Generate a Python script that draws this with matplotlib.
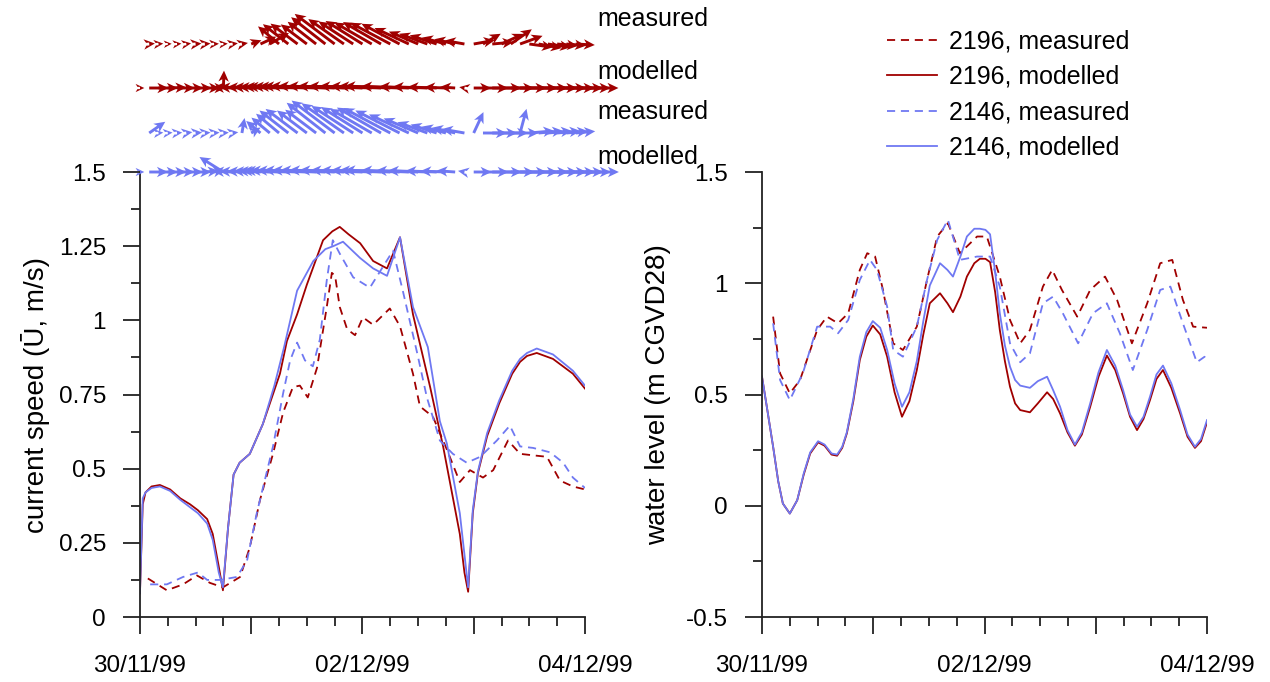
import matplotlib
matplotlib.use("Agg")
import matplotlib.pyplot as plt
import numpy as np
from matplotlib.ticker import MultipleLocator

plt.rcParams['font.family'] = ['Liberation Sans', 'DejaVu Sans']

RED = '#a00000'
BLUE = '#6f78f2'

# hours after 30/11/99 00:00
# ---- current speed (m/s) ----
spd_t_2196_mod = [0, 0.6, 1.2, 2.5, 4.3, 6.5, 8.7, 10.8, 12.5, 14.5, 15.7, 17, 17.9, 19, 20.2, 21.5,
                  23.7, 26.5, 30.2, 31.7, 33.9, 36, 39.5, 41.5, 43.1, 45, 47.5, 50.3, 53.3, 56.1,
                  58.9, 62.6, 65.4, 69.0, 70.0, 70.8, 71.8, 72.9, 74.9, 77.5, 80.3, 82, 83.5, 85.6,
                  89.1, 93.4, 96]
spd_2196_mod = [0.08, 0.38, 0.42, 0.44, 0.445, 0.43, 0.40, 0.38, 0.36, 0.33, 0.28, 0.17, 0.09, 0.30,
                0.48, 0.52, 0.55, 0.65, 0.82, 0.93, 1.02, 1.12, 1.27, 1.30, 1.315, 1.29, 1.26, 1.20,
                1.175, 1.28, 1.02, 0.775, 0.575, 0.28, 0.15, 0.085, 0.35, 0.485, 0.61, 0.72, 0.82,
                0.86, 0.88, 0.89, 0.87, 0.82, 0.77]

spd_t_2146_mod = [0, 0.6, 1.2, 2.5, 4.3, 6.5, 8.7, 10.8, 12.5, 14.5, 15.7, 17, 17.9, 19, 20.2, 21.5,
                  23.7, 26.5, 29, 31.1, 33.9, 37.4, 40, 41.7, 43.8, 47.5, 50.3, 53.3, 56.1, 58.9,
                  62.1, 64.7, 66.2, 69.0, 70.8, 71.8, 72.9, 74.9, 77.5, 80.3, 82, 83.5, 85.6, 89.1,
                  93.4, 96]
spd_2146_mod = [0.08, 0.40, 0.42, 0.435, 0.44, 0.425, 0.395, 0.37, 0.35, 0.315, 0.26, 0.15, 0.10,
                0.30, 0.48, 0.52, 0.55, 0.65, 0.78, 0.91, 1.10, 1.20, 1.24, 1.25, 1.265, 1.21, 1.175,
                1.15, 1.28, 1.045, 0.91, 0.66, 0.585, 0.35, 0.10, 0.36, 0.49, 0.62, 0.73, 0.83,
                0.87, 0.89, 0.905, 0.885, 0.83, 0.78]

spd_t_2196_meas = [1.7, 5.8, 9.3, 12.3, 15.1, 17.9, 21.6, 23.7, 25.9, 28.7, 30.9, 33.0, 34.5, 36.2,
                   38.2, 40.3, 41.4, 42.1, 43.1, 44.7, 46.4, 48.1, 50.3, 53.9, 56.1, 58.9, 60.4,
                   63.2, 66.2, 69.0, 71.2, 74.0, 76.2, 79.4, 82.0, 84.8, 87.8, 90.6, 93.4, 96]
spd_2196_meas = [0.13, 0.09, 0.11, 0.14, 0.115, 0.10, 0.135, 0.235, 0.395, 0.55, 0.69, 0.775, 0.78,
                 0.74, 0.84, 1.045, 1.16, 1.15, 1.045, 0.97, 0.95, 1.01, 0.985, 1.04, 0.98, 0.82,
                 0.71, 0.675, 0.565, 0.455, 0.495, 0.47, 0.495, 0.595, 0.55, 0.545, 0.54, 0.46,
                 0.44, 0.43]

spd_t_2146_meas = [2.2, 5.8, 9.3, 12.5, 14.5, 17.3, 20.9, 23.1, 25.2, 28.7, 30.9, 32.4, 33.9, 35.6,
                   37.3, 38.8, 40.3, 41.6, 43.1, 46.0, 49.6, 52.4, 54.6, 56.7, 59.8, 61.9, 64.7,
                   67.5, 70.5, 73.4, 77.0, 79.8, 82.0, 84.8, 88.5, 91.3, 93.4, 96]
spd_2146_meas = [0.11, 0.11, 0.135, 0.15, 0.125, 0.125, 0.135, 0.19, 0.35, 0.575, 0.755, 0.865,
                 0.925, 0.865, 0.845, 0.935, 1.135, 1.27, 1.225, 1.145, 1.11, 1.18, 1.235, 1.10,
                 0.89, 0.74, 0.595, 0.55, 0.52, 0.54, 0.595, 0.645, 0.575, 0.57, 0.555, 0.52,
                 0.47, 0.435]

# ---- water level (m CGVD28) ----
wl_t_mod = [0, 1, 2.4, 3.5, 4.5, 6.0, 7.6, 9, 10.4, 12.1, 13.5, 15, 16.2, 17.3, 18.3, 19.7, 21.1,
            22.5, 23.9, 25.5, 27.0, 28.6, 30.2, 31.8, 33.4, 34.8, 36.2, 38.4, 40, 41.2, 42.8, 44.2,
            45.8, 47.0, 48.2, 49.2, 50.3, 51.3, 52.4, 53.5, 54.6, 55.7, 57.8, 59.5, 61.5, 62.8,
            64.3, 65.9, 67.5, 69, 70.8, 72.6, 74.4, 76.2, 77.9, 79.4, 80.9, 82.3, 83.7, 85.1,
            86.5, 88.3, 90.2, 91.8, 93.4, 94.7, 96]
wl_2196_mod = [0.58, 0.45, 0.265, 0.11, 0.01, -0.035, 0.025, 0.14, 0.235, 0.285, 0.27, 0.23, 0.225,
               0.26, 0.325, 0.47, 0.655, 0.76, 0.81, 0.77, 0.67, 0.51, 0.40, 0.47, 0.61, 0.77, 0.91,
               0.955, 0.91, 0.87, 0.94, 1.03, 1.09, 1.11, 1.11, 1.095, 0.96, 0.79, 0.65, 0.535,
               0.46, 0.43, 0.42, 0.46, 0.51, 0.48, 0.415, 0.33, 0.27, 0.32, 0.445, 0.58, 0.675,
               0.61, 0.505, 0.40, 0.34, 0.39, 0.475, 0.57, 0.61, 0.53, 0.415, 0.31, 0.26, 0.29,
               0.375]
wl_2146_mod = [0.58, 0.45, 0.265, 0.11, 0.01, -0.035, 0.025, 0.145, 0.24, 0.29, 0.275, 0.235, 0.23,
               0.265, 0.33, 0.48, 0.67, 0.78, 0.83, 0.80, 0.70, 0.55, 0.445, 0.51, 0.65, 0.83, 0.99,
               1.09, 1.06, 1.03, 1.12, 1.21, 1.245, 1.245, 1.24, 1.22, 1.05, 0.865, 0.72, 0.625,
               0.565, 0.54, 0.53, 0.56, 0.58, 0.52, 0.445, 0.34, 0.275, 0.33, 0.46, 0.60, 0.70,
               0.63, 0.52, 0.41, 0.355, 0.40, 0.49, 0.59, 0.63, 0.55, 0.43, 0.32, 0.265, 0.30,
               0.385]

wl_t_2196_meas = [2.4, 3.9, 6.0, 8.2, 11.9, 14.0, 16.4, 18.6, 21.1, 22.7, 24.4, 26.1, 28.3, 30.4,
                  33.4, 35.6, 37.8, 40.1, 42.7, 46.4, 48.5, 51.3, 53.5, 55.7, 57.8, 60.6, 62.6,
                  64.7, 68.0, 70.8, 74.0, 76.6, 79.8, 83.1, 85.9, 88.5, 90.8, 93.0, 96]
wl_2196_meas = [0.85, 0.595, 0.505, 0.565, 0.79, 0.85, 0.82, 0.865, 1.06, 1.135, 1.12, 0.97, 0.73,
                0.70, 0.805, 1.015, 1.21, 1.27, 1.135, 1.21, 1.21, 1.03, 0.835, 0.73, 0.79, 0.985,
                1.06, 0.97, 0.85, 0.97, 1.03, 0.925, 0.73, 0.91, 1.09, 1.105, 0.925, 0.805, 0.80]

wl_t_2146_meas = [2.4, 3.9, 6.0, 8.8, 11.9, 14.7, 16.4, 18.6, 21.1, 23.3, 24.8, 27.0, 28.3, 30.4,
                  33.4, 35.6, 37.8, 40.1, 42.7, 46.4, 49.2, 51.3, 53.5, 55.7, 57.8, 60.6, 62.8,
                  64.9, 68.2, 71.4, 74.4, 77.2, 80.0, 83.1, 85.9, 88.1, 90.8, 93.8, 95.5, 96]
wl_2146_meas = [0.82, 0.565, 0.475, 0.595, 0.805, 0.805, 0.775, 0.835, 1.015, 1.105, 1.06, 0.895,
                0.70, 0.67, 0.805, 1.015, 1.195, 1.285, 1.105, 1.12, 1.12, 0.985, 0.73, 0.645,
                0.685, 0.91, 0.94, 0.865, 0.73, 0.865, 0.91, 0.775, 0.61, 0.79, 0.97, 0.985, 0.82,
                0.645, 0.67, 0.69]

# ---- current vectors (speed m/s, direction deg anticlockwise from east) ----
vec_t_mod = [0, 2, 4, 6, 8, 10, 12, 14, 16, 18, 20, 22, 24, 26, 28, 30, 32, 34, 36, 38, 40, 42, 44,
             46, 48, 50, 52, 54, 56, 58, 60, 62, 64, 66, 68, 70, 72, 74, 76, 78, 80, 82, 84, 86,
             88, 90, 92, 94, 96]
vec_t_meas = [2, 4, 6, 8, 10, 12, 14, 16, 18, 20, 22, 24, 26, 28, 30, 32, 34, 36, 38, 40, 42, 44,
              46, 48, 50, 52, 54, 56, 58, 60, 62, 64, 66, 68, 70, 72, 74, 76, 78, 80, 82, 84, 86,
              88, 90, 92, 94]

vec_spd_2196_mod = [0.10, 0.44, 0.445, 0.43, 0.41, 0.39, 0.37, 0.35, 0.26, 0.40, 0.45, 0.52, 0.56,
                    0.63, 0.72, 0.81, 0.94, 1.03, 1.12, 1.22, 1.28, 1.31, 1.30, 1.28, 1.25, 1.21,
                    1.18, 1.20, 1.27, 1.10, 0.90, 0.80, 0.67, 0.50, 0.35, 0.12, 0.40, 0.58, 0.67,
                    0.75, 0.82, 0.86, 0.885, 0.89, 0.88, 0.86, 0.84, 0.80, 0.77]
vec_dir_2196_mod = [0, 0, 0, 2, 0, 0, 0, 0, 0, 88, 178, 178, 178, 178, 178, 178, 178, 178, 178, 178,
                    178, 178, 178, 178, 178, 178, 178, 178, 178, 178, 178, 178, 178, 178, 176, 170,
                    0, 0, 0, 0, 0, 0, 0, 0, 0, 0, 0, 0, 0]

vec_spd_2196_meas = [0.13, 0.11, 0.09, 0.10, 0.11, 0.135, 0.13, 0.11, 0.10, 0.12, 0.14, 0.25, 0.40,
                     0.51, 0.63, 0.74, 0.78, 0.75, 0.83, 1.00, 1.15, 1.00, 0.95, 1.00, 0.99, 1.01,
                     1.04, 0.99, 0.87, 0.73, 0.69, 0.65, 0.57, 0.49, 0.46, 0.49, 0.47, 0.49, 0.55,
                     0.59, 0.55, 0.545, 0.54, 0.535, 0.48, 0.45, 0.44]
vec_dir_2196_meas = [5, 5, 3, 5, 8, 5, 5, 3, 5, 8, 10, 20, 25, 30, 140, 142, 143, 143, 142, 142,
                     143, 145, 147, 148, 150, 150, 152, 152, 155, 157, 160, 162, 165, 167, 170,
                     10, 30, 5, 25, 35, 20, -8, -10, -8, -5, -5, -3]

vec_spd_2146_mod = [0.10, 0.43, 0.44, 0.425, 0.40, 0.38, 0.36, 0.32, 0.24, 0.65, 0.45, 0.52, 0.56,
                    0.63, 0.74, 0.86, 1.00, 1.10, 1.16, 1.21, 1.235, 1.255, 1.265, 1.24, 1.20, 1.18,
                    1.16, 1.18, 1.27, 1.10, 0.97, 0.91, 0.72, 0.59, 0.43, 0.15, 0.41, 0.59, 0.68,
                    0.76, 0.83, 0.87, 0.895, 0.905, 0.895, 0.875, 0.85, 0.81, 0.78]
vec_dir_2146_mod = [0, 0, 0, 0, 0, 0, 0, 5, 10, 148, 178, 178, 178, 178, 178, 178, 178, 178, 178,
                    178, 178, 178, 178, 178, 178, 178, 178, 178, 178, 178, 178, 178, 178, 178, 176,
                    170, 0, 0, 0, 0, 0, 0, 0, 0, 0, 0, 0, 0, 0]

vec_spd_2146_meas = [0.45, 0.11, 0.11, 0.12, 0.14, 0.15, 0.13, 0.125, 0.125, 0.13, 0.35, 0.25, 0.43,
                     0.55, 0.69, 0.84, 0.92, 0.86, 0.89, 1.13, 1.24, 1.19, 1.145, 1.125, 1.11, 1.17,
                     1.22, 1.14, 1.01, 0.86, 0.73, 0.63, 0.57, 0.545, 0.525, 0.53, 0.55, 0.575,
                     0.61, 0.64, 0.575, 0.575, 0.565, 0.555, 0.54, 0.50, 0.45]
vec_dir_2146_meas = [35, 5, 5, 5, 8, 5, 5, 5, 5, 8, 80, 30, 140, 140, 140, 142, 143, 143, 143, 142,
                     143, 145, 147, 148, 150, 150, 152, 153, 155, 157, 160, 162, 165, 167, 170,
                     65, 0, 0, 0, 0, 75, 5, 5, 5, 5, 5, 5]

day_ticks = [0, 24, 48, 72, 96]
day_labels = ['30/11/99', '', '02/12/99', '', '04/12/99']

fig = plt.figure(figsize=(12.7, 6.82), dpi=100)
ax1 = fig.add_axes([0.1102, 0.0953, 0.3504, 0.6525])
ax2 = fig.add_axes([0.6000, 0.0953, 0.3504, 0.6525])

dash = (4.5, 3.2)
lw = 1.3
ax1.plot(spd_t_2196_meas, spd_2196_meas, color=RED, lw=lw, dashes=dash)
ax1.plot(spd_t_2196_mod, spd_2196_mod, color=RED, lw=lw)
ax1.plot(spd_t_2146_meas, spd_2146_meas, color=BLUE, lw=lw, dashes=dash)
ax1.plot(spd_t_2146_mod, spd_2146_mod, color=BLUE, lw=lw)
ax1.set_ylim(0, 1.5)
ax1.set_yticks([0, 0.25, 0.5, 0.75, 1, 1.25, 1.5])
ax1.set_yticklabels(['0', '0.25', '0.5', '0.75', '1', '1.25', '1.5'])
ax1.yaxis.set_minor_locator(MultipleLocator(0.125))
ax1.set_ylabel('current speed (Ū, m/s)', fontsize=20, labelpad=6)

ax2.plot(wl_t_2196_meas, wl_2196_meas, color=RED, lw=lw, dashes=dash, label='2196, measured')
ax2.plot(wl_t_mod, wl_2196_mod, color=RED, lw=lw, label='2196, modelled')
ax2.plot(wl_t_2146_meas, wl_2146_meas, color=BLUE, lw=lw, dashes=dash, label='2146, measured')
ax2.plot(wl_t_mod, wl_2146_mod, color=BLUE, lw=lw, label='2146, modelled')
ax2.set_ylim(-0.5, 1.5)
ax2.set_yticks([-0.5, 0, 0.5, 1, 1.5])
ax2.set_yticklabels(['-0.5', '0', '0.5', '1', '1.5'])
ax2.yaxis.set_minor_locator(MultipleLocator(0.25))
ax2.set_ylabel('water level (m CGVD28)', fontsize=20, labelpad=11)

for ax in (ax1, ax2):
    ax.set_xlim(0, 96)
    ax.set_xticks(day_ticks)
    ax.set_xticklabels(day_labels)
    ax.xaxis.set_minor_locator(MultipleLocator(6))
    ax.spines['top'].set_visible(False)
    ax.spines['right'].set_visible(False)
    for s in ('left', 'bottom'):
        ax.spines[s].set_linewidth(1.3)
        ax.spines[s].set_color('#222222')
    ax.tick_params(which='major', direction='out', length=12.5, width=1.3, color='#222222',
                   labelsize=17.5)
    ax.tick_params(which='minor', direction='out', length=6.5, width=1.3, color='#222222')
    ax.tick_params(axis='y', which='major', pad=12)
    ax.tick_params(axis='x', which='major', pad=15)

# vector rows above the speed panel
axq = fig.add_axes([0.1102, 0.7478, 0.3504, 0.2522])
axq.set_xlim(0, 96)
axq.set_ylim(0, 172)
axq.axis('off')
rows = [
    (vec_t_meas, vec_spd_2196_meas, vec_dir_2196_meas, 128, RED),
    (vec_t_mod, vec_spd_2196_mod, vec_dir_2196_mod, 84, RED),
    (vec_t_meas, vec_spd_2146_meas, vec_dir_2146_meas, 39, BLUE),
    (vec_t_mod, vec_spd_2146_mod, vec_dir_2146_mod, 0, BLUE),
]
for t, s, d, y0, c in rows:
    s = np.array(s)
    d = np.radians(d)
    q = axq.quiver(t, np.full(len(t), y0), s * np.cos(d), s * np.sin(d), color=c,
                   angles='uv', scale_units='inches', scale=2.3, pivot='tail',
                   width=0.0065, headwidth=3.6, headlength=3.8, headaxislength=3.0,
                   minshaft=0.5, minlength=0.3)
    q.set_clip_on(False)

for label, y in [('measured', 0.972), ('modelled', 0.894), ('measured', 0.836), ('modelled', 0.770)]:
    fig.text(0.470, y, label, fontsize=18, va='center', ha='left')

fig.legend(loc='upper left', bbox_to_anchor=(0.681, 0.99), frameon=False, fontsize=18,
           handlelength=2.0, labelspacing=0.46, handletextpad=0.45)

fig.savefig('out.png', dpi=100)
